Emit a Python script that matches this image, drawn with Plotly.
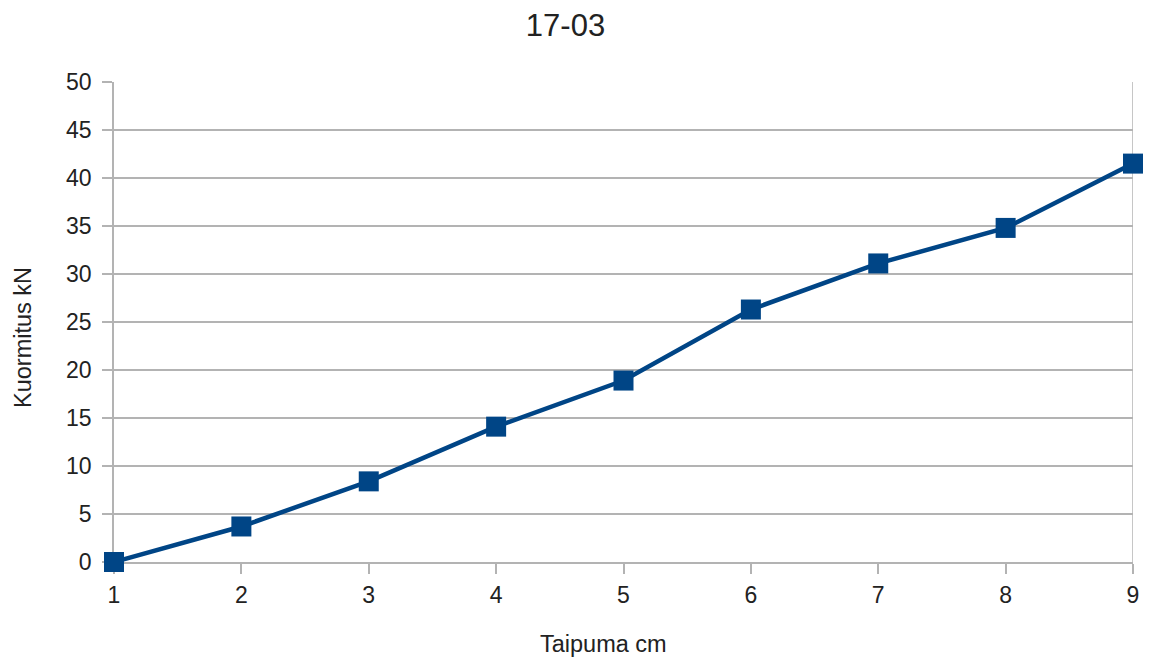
import plotly.graph_objects as go

# Deflection test 17-03: load vs. deflection
taipuma = [1, 2, 3, 4, 5, 6, 7, 8, 9]
kuormitus = [0, 3.7, 8.4, 14.1, 18.9, 26.3, 31.1, 34.8, 41.5]
y_ticks = [0, 5, 10, 15, 20, 25, 30, 35, 40, 45, 50]

blue = "#004586"
grid = "#b3b3b3"
text_color = "#222222"
font_family = "Liberation Sans, Arial, sans-serif"

fig = go.Figure(
    go.Scatter(
        x=taipuma,
        y=kuormitus,
        mode="lines+markers",
        line=dict(color=blue, width=4.5),
        marker=dict(symbol="square", size=20, color=blue),
        cliponaxis=False,
        showlegend=False,
    )
)

fig.update_layout(
    width=1155,
    height=662,
    margin=dict(l=114, r=22, t=82, b=100),
    paper_bgcolor="white",
    plot_bgcolor="white",
    font=dict(family=font_family, color=text_color),
    title=dict(
        text="17-03",
        x=565.5 / 1155,
        xanchor="center",
        y=1 - 25 / 662,
        yanchor="middle",
        font=dict(size=31, color=text_color),
    ),
)

fig.update_xaxes(
    range=[1, 9],
    tickvals=taipuma,
    showgrid=False,
    showline=True,
    linecolor=grid,
    linewidth=1.5,
    layer="below traces",
    ticks="outside",
    ticklen=10,
    tickwidth=1.5,
    tickcolor=grid,
    ticklabelstandoff=2,
    tickfont=dict(size=23, color=text_color),
    zeroline=False,
)
fig.update_yaxes(
    range=[0, 50],
    tickvals=y_ticks,
    showgrid=True,
    gridcolor=grid,
    gridwidth=1.5,
    showline=True,
    linecolor=grid,
    linewidth=1.5,
    layer="below traces",
    ticks="outside",
    ticklen=10,
    tickwidth=1.5,
    tickcolor=grid,
    ticklabelstandoff=6,
    tickfont=dict(size=23, color=text_color),
    zeroline=False,
)

# right border of the plot area
fig.add_shape(type="line", xref="x", yref="paper", x0=9, x1=9, y0=0, y1=1,
              line=dict(color=grid, width=1.5), layer="below")

plot_w = 1155 - 114 - 22
plot_h = 662 - 82 - 100
fig.add_annotation(text="Taipuma cm", xref="paper", yref="paper",
                   x=(603 - 114) / plot_w, y=-(644 - 562) / plot_h,
                   xanchor="center", yanchor="middle", showarrow=False,
                   font=dict(size=23.5, color=text_color))
fig.add_annotation(text="Kuormitus kN", xref="paper", yref="paper",
                   x=-(114 - 23) / plot_w, y=(562 - 338) / plot_h,
                   xanchor="center", yanchor="middle", textangle=-90, showarrow=False,
                   font=dict(size=23.5, color=text_color))

fig.write_html("out.html")
